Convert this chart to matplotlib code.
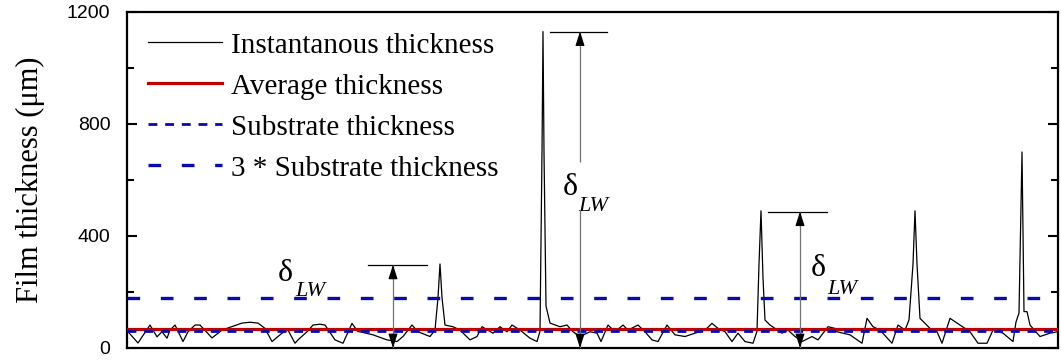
import matplotlib
matplotlib.use("Agg")
import matplotlib.pyplot as plt
from matplotlib.ticker import MultipleLocator

# time (arbitrary units) and film thickness in um
t = [1, 11, 23, 30, 35, 40, 43, 48, 56, 61, 68, 73, 85, 95, 115, 123, 131,
     138, 145, 155, 161, 168, 171, 180, 186, 193, 198, 208, 216, 225, 231,
     233, 246, 260, 270, 276, 285, 291, 303, 308, 311, 313, 315, 318, 326,
     333, 343, 350, 355, 366, 373, 380, 385, 393, 403, 410, 413, 415, 416,
     417, 419, 423, 433, 440, 446, 453, 463, 470, 474, 481, 488, 496, 501,
     511, 518, 525, 531, 540, 548, 558, 568, 578, 585, 591, 598, 605, 611,
     618, 626, 630, 632, 634, 636, 638, 643, 648, 655, 661, 668, 675, 685,
     691, 701, 708, 710, 723, 735, 740, 746, 753, 765, 771, 778, 782, 786,
     788, 790, 793, 803, 810, 815, 823, 833, 843, 851, 860, 866, 876, 886,
     889, 892, 895, 897, 900, 903, 913, 923, 931]
thickness = [58, 18, 82, 40, 58, 35, 64, 82, 23, 58, 82, 82, 36, 64, 89, 92,
             89, 70, 23, 53, 64, 17, 29, 58, 82, 85, 82, 29, 17, 88, 58,
             58, 47, 29, 23, 41, 82, 58, 41, 64, 180, 300, 180, 82, 76,
             64, 29, 41, 76, 53, 76, 58, 82, 64, 35, 23, 60, 700, 1130,
             700, 150, 89, 76, 82, 58, 41, 58, 53, 23, 82, 58, 82, 64,
             82, 58, 29, 23, 82, 47, 41, 53, 64, 88, 70, 58, 23, 53,
             23, 17, 60, 300, 490, 250, 100, 82, 70, 53, 64, 41, 23, 41,
             29, 76, 70, 58, 47, 17, 106, 76, 64, 17, 82, 64, 100, 300,
             490, 300, 106, 70, 58, 17, 106, 82, 58, 17, 17, 64, 53, 23,
             93, 125, 700, 130, 130, 82, 41, 53, 58]

avg_thickness = 68
substrate = 60
peaks = [297, 1130, 487]          # delta_LW heights shown by the arrows
peak_t = [266, 453, 673]
cap_left = [241, 423, 641]
cap_right = [300, 480, 700]

serif = "Liberation Serif"
red = "#c00000"
blue = "#0a0aa8"

fig = plt.figure(figsize=(10.61, 3.6), dpi=100)
ax = fig.add_axes([127 / 1061, 12 / 360, 931 / 1061, 336 / 360])

ax.plot(t, thickness, color="black", lw=0.9, label="Instantanous thickness", zorder=2)
ax.axhline(avg_thickness, color=red, lw=2.3, label="Average thickness", zorder=3)
ax.axhline(substrate, color=blue, lw=2.0, dashes=(3.2, 2.8), label="Substrate thickness", zorder=3)
ax.axhline(3 * substrate, color=blue, lw=2.4, dashes=(3.8, 6.2),
           label="3 * Substrate thickness", zorder=3)

# delta_LW arrows: grey shaft, black heads, cap line at the peak height
head_kw = dict(arrowstyle="-|>,head_length=0.62,head_width=0.2", color="black",
               lw=0.8, mutation_scale=14, shrinkA=0, shrinkB=0)
for i, (x, h) in enumerate(zip(peak_t, peaks)):
    ax.plot([cap_left[i], cap_right[i]], [h, h], color="black", lw=0.9, zorder=4)
    if i == 1:
        ax.vlines(x, 663, h, color="0.45", lw=0.9, zorder=4)
        ax.vlines(x, 0, 494, color="0.45", lw=0.9, zorder=4)
    else:
        ax.vlines(x, 0, h, color="0.45", lw=0.9, zorder=4)
    ax.annotate("", xy=(x, h), xytext=(x, h - 40), arrowprops=head_kw, zorder=5)
    ax.annotate("", xy=(x, 0), xytext=(x, 40), arrowprops=head_kw, zorder=5)

for dx, dy, lx, ly in [(158, 265, 168, 200), (443, 573, 451, 505), (691, 283, 700, 208)]:
    ax.text(dx, dy, "δ", family=serif, fontsize=23, ha="center", va="center")
    ax.text(lx, ly, "LW", family=serif, style="italic", fontsize=16,
            ha="left", va="center")

ax.set_xlim(0, 931)
ax.set_ylim(0, 1200)
ax.yaxis.set_major_locator(MultipleLocator(400))
ax.yaxis.set_minor_locator(MultipleLocator(200))
ax.tick_params(axis="y", which="both", direction="in", right=True, width=1.5,
               labelsize=14, pad=12)
ax.tick_params(axis="y", which="major", length=7)
ax.tick_params(axis="y", which="minor", length=5)
ax.tick_params(axis="x", which="both", bottom=False, labelbottom=False)
for lab in ax.get_yticklabels():
    lab.set_family("Liberation Sans")
for s in ax.spines.values():
    s.set_linewidth(1.6)

ax.set_ylabel("Film thickness (μm)", family=serif, fontsize=22, labelpad=16)

ax.legend(loc="upper left", bbox_to_anchor=(0.0226, 0.94), frameon=False,
          borderaxespad=0, borderpad=0, handlelength=2.55, handletextpad=0.3,
          labelspacing=0.5, prop={"family": serif, "size": 21})

fig.savefig("out.png", dpi=100)
